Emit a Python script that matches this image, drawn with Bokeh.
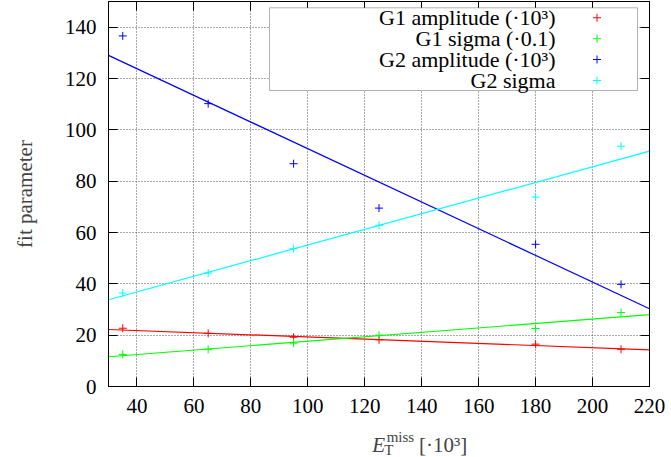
from bokeh.plotting import figure
from bokeh.layouts import column
from bokeh.models import (LinearAxis, Label, BoxAnnotation, FixedTicker, Range1d,
                          CustomJSTickFormatter)
from bokeh.embed import file_html
from bokeh.resources import INLINE

# ---- data ----
x_pts = [35, 65, 95, 125, 180, 210]
g1_amp = [22.7, 20.7, 19.2, 18.2, 16.5, 14.5]
g1_sigma = [12.5, 14.5, 16.9, 20.0, 22.6, 28.8]
g2_amp = [136.6, 110.2, 86.8, 69.5, 55.4, 39.8]
g2_sigma = [36.4, 44.2, 53.7, 62.8, 73.8, 93.6]

fit_x = [30, 220]
g1_amp_fit = [22.2, 14.3]
g1_sigma_fit = [11.6, 28.0]
g2_amp_fit = [129.0, 30.3]
g2_sigma_fit = [33.8, 91.7]

series_names = ["G1 amplitude (\u00b710\u00b3)", "G1 sigma (\u00b70.1)",
                "G2 amplitude (\u00b710\u00b3)", "G2 sigma"]
series_colors = ["#ff0000", "#00ff00", "#0000ff", "#00ffff"]

x_ticks = [40, 60, 80, 100, 120, 140, 160, 180, 200, 220]
y_ticks = [0, 20, 40, 60, 80, 100, 120, 140]

y_title = "fit parameter"
x_title_parts = ["E", "miss", "T", "[\u00b710\u00b3]"]

FONT = "Liberation Serif"
MAIN_H = 421

p = figure(width=671, height=MAIN_H, x_range=Range1d(30, 220), y_range=Range1d(0, 150),
           output_backend="svg", toolbar_location=None,
           min_border_left=108, min_border_right=22, min_border_top=1,
           min_border_bottom=MAIN_H - 386)
p.outline_line_color = "black"
p.outline_line_width = 1
p.background_fill_color = "white"
p.border_fill_color = "white"

for ax, ticks in ((p.xaxis[0], x_ticks), (p.yaxis[0], y_ticks)):
    ax.ticker = FixedTicker(ticks=ticks)
    ax.major_tick_in = 9
    ax.major_tick_out = 0
    ax.minor_tick_line_color = None
    ax.axis_line_color = "black"
    ax.major_tick_line_color = "black"
    ax.major_label_text_font = FONT
    ax.major_label_text_font_size = "21px"
    ax.major_label_text_color = "black"
p.xaxis[0].major_label_standoff = 12
p.yaxis[0].major_label_standoff = 12
p.yaxis[0].axis_label = y_title
p.yaxis[0].axis_label_text_font = FONT
p.yaxis[0].axis_label_text_font_size = "21px"
p.yaxis[0].axis_label_text_font_style = "normal"
p.yaxis[0].axis_label_standoff = 25

# mirrored ticks (gnuplot style) on the top and right edges, without labels
for loc, ticks in (("right", y_ticks), ("above", x_ticks)):
    ax = LinearAxis(ticker=FixedTicker(ticks=ticks), major_tick_in=9, major_tick_out=0,
                    minor_tick_line_color=None,
                    formatter=CustomJSTickFormatter(code="return ''"),
                    major_label_text_font_size="1px",
                    major_label_standoff=0, axis_line_color="black")
    p.add_layout(ax, loc)

for g in (p.xgrid[0], p.ygrid[0]):
    g.grid_line_color = "#555555"
    g.grid_line_dash = "1 2"
    g.grid_line_width = 1
p.xgrid[0].ticker = FixedTicker(ticks=x_ticks)
p.ygrid[0].ticker = FixedTicker(ticks=y_ticks)

for vals, fit, col in ((g1_amp, g1_amp_fit, series_colors[0]),
                       (g1_sigma, g1_sigma_fit, series_colors[1]),
                       (g2_amp, g2_amp_fit, series_colors[2]),
                       (g2_sigma, g2_sigma_fit, series_colors[3])):
    p.scatter(x_pts, vals, marker="cross", size=8, line_color=col, line_width=1)
    p.line(fit_x, fit, line_color=col, line_width=1.2)

# legend (manual, gnuplot style: text right-aligned, sample on the right)
p.add_layout(BoxAnnotation(left=161, right=529, top=378.7, bottom=296,
                           left_units="screen", right_units="screen",
                           top_units="screen", bottom_units="screen",
                           fill_color="white", fill_alpha=1.0,
                           line_color="black", line_width=1))
row_y = [368.7, 347.8, 326.9, 306.0]
mx = 488.5
for name, col, yy in zip(series_names, series_colors, row_y):
    p.add_layout(Label(x=447, y=yy, x_units="screen", y_units="screen", text=name,
                       text_font=FONT, text_font_size="22px", text_align="right",
                       text_baseline="middle", text_color="black"))
    # small "+" sample drawn as two thin boxes
    p.add_layout(BoxAnnotation(left=mx - 4, right=mx + 4, bottom=yy - 0.5, top=yy + 0.5,
                               left_units="screen", right_units="screen",
                               top_units="screen", bottom_units="screen",
                               fill_color=col, fill_alpha=1.0, line_color=None))
    p.add_layout(BoxAnnotation(left=mx - 0.5, right=mx + 0.5, bottom=yy - 4, top=yy + 4,
                               left_units="screen", right_units="screen",
                               top_units="screen", bottom_units="screen",
                               fill_color=col, fill_alpha=1.0, line_color=None))

# x axis title strip: E_T^miss [·10^3]
H2 = 457 - MAIN_H
p2 = figure(width=671, height=H2, x_range=Range1d(0, 671), y_range=Range1d(0, H2),
            output_backend="svg", toolbar_location=None, min_border=0,
            min_border_left=0, min_border_right=0, min_border_top=0, min_border_bottom=0,
            x_axis_location=None, y_axis_location=None)
p2.outline_line_color = None
p2.grid.visible = False
p2.background_fill_color = "white"
p2.border_fill_color = "white"

title_specs = [  # (text, x, baseline y, size, style)
    (x_title_parts[0], 327, 12.5, "21px", "italic"),
    (x_title_parts[1], 345, 21.0, "15px", "normal"),
    (x_title_parts[2], 342, 7.5, "15px", "normal"),
    (x_title_parts[3], 385, 12.5, "21px", "normal"),
]
for txt, xx, yy, sz, st in title_specs:
    p2.add_layout(Label(x=xx, y=yy, text=txt, text_font=FONT, text_font_size=sz,
                        text_font_style=st, text_baseline="alphabetic", text_align="left"))

layout = column(p, p2, spacing=0)
open("out.html", "w").write(file_html(layout, INLINE))
